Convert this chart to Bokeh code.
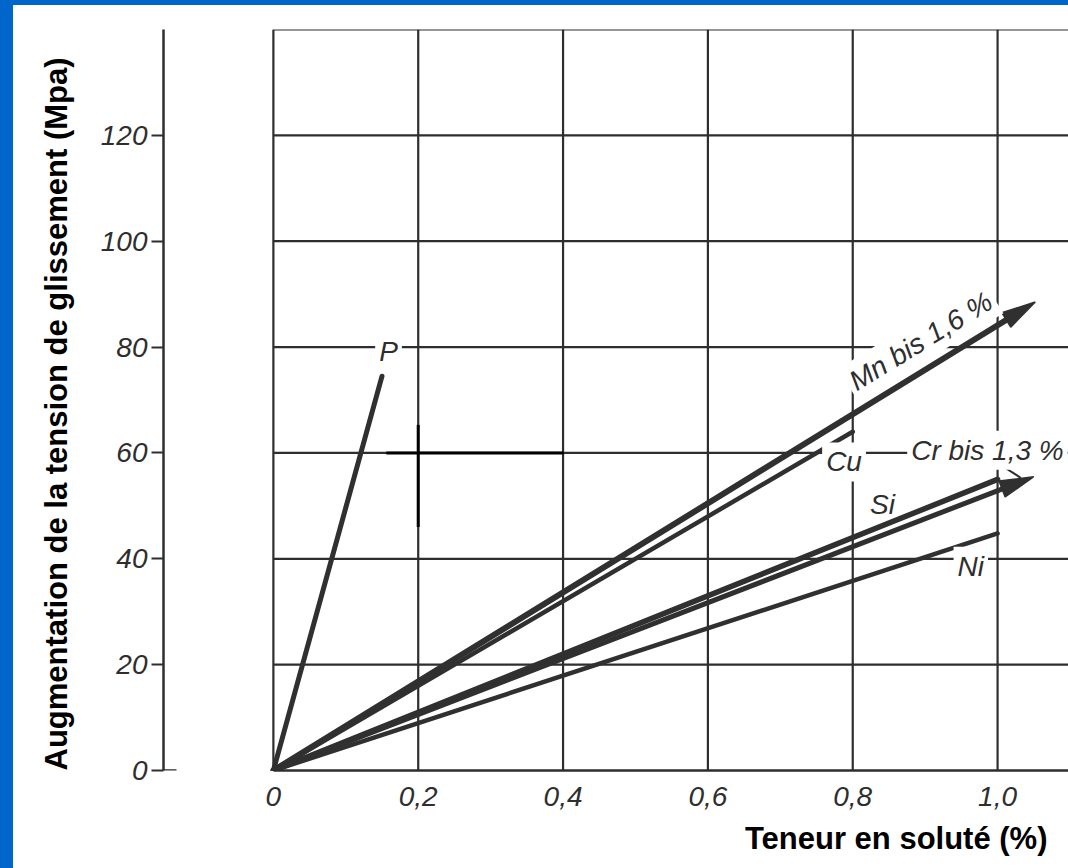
import math
from bokeh.plotting import figure
from bokeh.models import Range1d, FixedTicker, Label, ColumnDataSource, Title
from bokeh.embed import file_html
from bokeh.resources import INLINE

# ---------------- data ----------------
x_ticks = [0, 0.2, 0.4, 0.6, 0.8, 1.0]
x_tick_labels = ["0", "0,2", "0,4", "0,6", "0,8", "1,0"]
y_ticks = [0, 20, 40, 60, 80, 100, 120]
y_tick_labels = ["0", "20", "40", "60", "80", "100", "120"]

grid_x = [0, 0.2, 0.4, 0.6, 0.8, 1.0]
grid_y = [20, 40, 60, 80, 100, 120, 140]

series_names = ["P", "Mn", "Cu", "Si", "Cr", "Ni"]
series_x_end = [0.15, 1.052, 0.8, 1.0, 1.05, 1.0]
series_y_end = [74.5, 88.5, 64.0, 55.0, 55.5, 44.8]
series_arrow = [False, True, False, False, True, False]
series_width = [5.0, 6.0, 4.5, 5.5, 5.0, 4.5]

label_text = ["P", "Mn bis 1,6 %", "Cu", "Si", "Cr bis 1,3 %", "Ni"]
label_x = [0.159, 0.808, 0.788, 0.841, 0.986, 0.963]
label_y = [79.1, 69.6, 58.3, 50.3, 60.5, 38.6]
label_angle = [0, 31.5, 0, 0, 0, 0]
label_bg = [True, True, True, False, True, True]

leader_x = [1.0, 1.032]
leader_y = [58.1, 55.3]

cross_h_x = [0.156, 0.401]
cross_h_y = [60, 60]
cross_v_x = [0.2, 0.2]
cross_v_y = [46.0, 65.3]

x_title = "Teneur en soluté (%)"
y_title = "Augmentation de la tension de glissement (Mpa)"

# ---------------- layout ----------------
FW, FH = 1055, 863
BL, BR, BT, BB = 149, 0, 24, 98
frame_w = FW - BL - BR
frame_h = FH - BT - BB
px_per_x = 725.0
x_start = -110.0 / px_per_x
x_end = x_start + frame_w / px_per_x
y_start, y_end = 0, 140
px_per_y = frame_h / (y_end - y_start)

INK = "#2e2e2e"

p = figure(width=FW, height=FH,
           x_range=Range1d(x_start, x_end), y_range=Range1d(y_start, y_end),
           output_backend="svg", toolbar_location=None,
           min_border_left=BL, min_border_right=BR,
           min_border_top=BT, min_border_bottom=BB)
p.outline_line_color = None
p.xgrid.visible = False
p.ygrid.visible = False
p.background_fill_color = "white"
p.border_fill_color = "white"
p.styles = {"background-color": "white"}

# axes
p.yaxis.ticker = FixedTicker(ticks=y_ticks)
p.yaxis.major_label_overrides = {t: l for t, l in zip(y_ticks, y_tick_labels)}
p.yaxis.bounds = (y_start, y_end)
p.yaxis.axis_line_width = 2.5
p.yaxis.axis_line_color = INK
p.yaxis.major_tick_out = 12
p.yaxis.major_tick_in = 0
p.yaxis.major_tick_line_width = 2
p.yaxis.major_tick_line_color = INK
p.yaxis.minor_tick_line_color = None
p.yaxis.major_label_standoff = 4
p.yaxis.major_label_text_font = "Liberation Sans"
p.yaxis.major_label_text_font_style = "italic"
p.yaxis.major_label_text_font_size = "28px"
p.yaxis.major_label_text_color = INK

p.xaxis.ticker = FixedTicker(ticks=x_ticks)
p.xaxis.major_label_overrides = {t: l for t, l in zip(x_ticks, x_tick_labels)}
p.xaxis.bounds = (0, x_end)
p.xaxis.axis_line_width = 2.5
p.xaxis.axis_line_color = INK
p.xaxis.major_tick_out = 0
p.xaxis.major_tick_in = 0
p.xaxis.minor_tick_line_color = None
p.xaxis.major_label_standoff = 16
p.xaxis.major_label_text_font = "Liberation Sans"
p.xaxis.major_label_text_font_style = "italic"
p.xaxis.major_label_text_font_size = "28px"
p.xaxis.major_label_text_color = INK

# axis titles
p.add_layout(Title(text=x_title, align="right", offset=21, standoff=20,
                   text_font="Liberation Sans", text_font_style="bold",
                   text_font_size="31px", text_color="black"), "below")
p.add_layout(Title(text=y_title, align="left", offset=0, standoff=47,
                   text_font="Liberation Sans", text_font_style="bold",
                   text_font_size="31px", text_color="black"), "left")

# small stub at the foot of the left axis
p.segment(x0=[x_start], y0=[0], x1=[x_start + 13 / px_per_x], y1=[0],
          line_color=INK, line_width=2.5)

# grid box
p.segment(x0=grid_x, y0=[0] * len(grid_x), x1=grid_x, y1=[y_end] * len(grid_x),
          line_color=INK, line_width=2.2)
p.segment(x0=[0] * len(grid_y), y0=grid_y, x1=[x_end] * len(grid_y), y1=grid_y,
          line_color=INK, line_width=2.2)

# marker cross
p.line(cross_h_x, cross_h_y, line_color="black", line_width=3)
p.line(cross_v_x, cross_v_y, line_color="black", line_width=3)

# curve labels
for t, lx, ly, ang, bg in zip(label_text, label_x, label_y, label_angle, label_bg):
    kw = dict(x=lx, y=ly, text=t, angle=ang, angle_units="deg",
              text_font="Liberation Sans", text_font_style="italic",
              text_font_size="28px", text_color=INK)
    if ang:
        kw.update(text_align="left", text_baseline="bottom")
    else:
        kw.update(text_align="center", text_baseline="middle")
    if bg:
        kw.update(background_fill_color="white", background_fill_alpha=1.0, padding=4)
    p.add_layout(Label(**kw))

# data lines and arrow heads
HEAD_L, HEAD_HW = 34.0, 8.5
seg = dict(x0=[], y0=[], x1=[], y1=[], w=[])
head_xs, head_ys = [], []
for name, xe, ye, arr, w in zip(series_names, series_x_end, series_y_end,
                                series_arrow, series_width):
    if arr:
        tx, ty = xe * px_per_x, ye * px_per_y
        L = math.hypot(tx, ty)
        ux, uy = tx / L, ty / L
        bx, by = tx - HEAD_L * ux, ty - HEAD_L * uy
        nx, ny = -uy, ux
        head_xs.append([xe, (bx + HEAD_HW * nx) / px_per_x, (bx - HEAD_HW * nx) / px_per_x])
        head_ys.append([ye, (by + HEAD_HW * ny) / px_per_y, (by - HEAD_HW * ny) / px_per_y])
        ex, ey = (bx + 8 * ux) / px_per_x, (by + 8 * uy) / px_per_y
    else:
        ex, ey = xe, ye
    seg["x0"].append(0); seg["y0"].append(0)
    seg["x1"].append(ex); seg["y1"].append(ey); seg["w"].append(w)

p.segment(x0="x0", y0="y0", x1="x1", y1="y1", line_width="w",
          line_color="#303030", line_cap="round", source=ColumnDataSource(seg))
p.patches(head_xs, head_ys, fill_color="#303030", line_color="#303030", line_width=1.5)

# leader line for Cr label
p.line(leader_x, leader_y, line_color=INK, line_width=2)

html = file_html(p, INLINE)
html = html.replace("</head>",
                    "<style>body{background-color:#0066cc;padding:5px 0 0 13px !important;}</style></head>", 1)
open("out.html", "w").write(html)
